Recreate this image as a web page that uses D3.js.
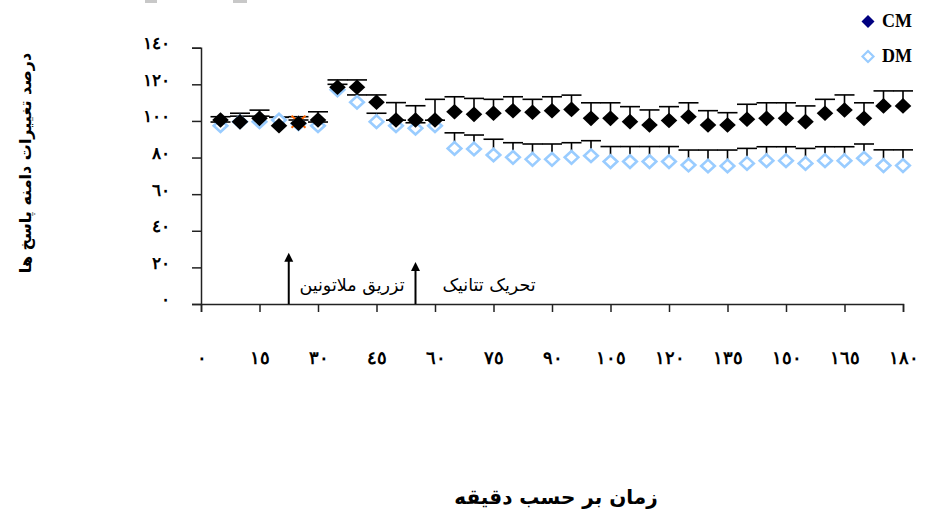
<!DOCTYPE html>
<html>
<head>
<meta charset="utf-8">
<script src="https://cdn.jsdelivr.net/npm/d3@7"></script>
<style>
  body { margin: 0; background: #fff; }
</style>
</head>
<body>
<div id="chart"></div>
<script>
// minutes
let minutes = [5, 10, 15, 20, 25, 30, 35, 40, 45, 50, 55, 60, 65, 70, 75, 80, 85, 90,
  95, 100, 105, 110, 115, 120, 125, 130, 135, 140, 145, 150, 155, 160, 165, 170, 175, 180]

let cmValues = [100.5, 99.5, 101.4, 97.4, 98.7, 100.5, 118.4, 118.4, 110.2, 100.5, 100.5, 100.5,
  105, 103.6, 104.2, 105.6, 104.7, 105.6, 106.3, 101.4, 101.4, 99.6, 97.8, 100.2, 102.3, 97.8,
  97.8, 100.9, 101.4, 101.4, 99.6, 104.2, 106, 101.4, 108.2, 108.2]
let cmErrors = [1.8, 4.7, 4.5, 4.6, 3.6, 4.5, 4, 4, 4, 9.5, 7.8, 11.3,
  8.2, 8.7, 7.6, 7.6, 7.1, 7.6, 7.8, 8.5, 8.5, 8.2, 8.2, 7.6, 7.6, 7.8,
  6.7, 8.2, 8.5, 8.5, 8.6, 7.6, 8.2, 8.5, 8.2, 8.2]

let dmValues = [97.4, 99.6, 99.6, 100.5, 98.5, 97.4, 117, 110.2, 99.6, 97.4, 96, 97.4,
  85, 84.7, 81.4, 80.1, 79, 79, 80.1, 81, 77.8, 77.8, 77.8, 77.8, 75.9, 75.4,
  75.4, 76.8, 78.3, 78.3, 76.8, 78.3, 78.3, 79.6, 75.6, 75.6]
let dmErrors = [2, 3, 3, 1.5, 2, 2, 3, 4, 4.6, 3, 3, 3,
  8.5, 7.6, 8.6, 8, 8.4, 8.4, 8, 8.2, 8.2, 8.2, 8.2, 8.2, 8.2, 8.7,
  8.7, 8.2, 7.6, 7.6, 8.2, 7.6, 7.6, 7.8, 8.6, 8.6]

// stray orange marker
let extraMinutes = [25]
let extraValues = [99.6]

let xTicks = [0, 15, 30, 45, 60, 75, 90, 105, 120, 135, 150, 165, 180]
let yTicks = [0, 20, 40, 60, 80, 100, 120, 140]

let arrowMinutes = [22.5, 55]
let arrowTops = [28, 23]
let arrowLabels = ["تزریق ملاتونین", "تحریک تتانیک"]

let seriesNames = ["CM", "DM"]

let width = 925
let height = 512

let toArabic = v => String(v).replace(/\d/g, c => "٠١٢٣٤٥٦٧٨٩"[c])

let svg = d3.select("#chart")
  .append("svg")
  .attr("width", width)
  .attr("height", height)
  .style("font-family", "'DejaVu Sans', sans-serif")

let x = d3.scaleLinear().domain([0, 180]).range([201, 903])
let y = d3.scaleLinear().domain([0, 140]).range([304, 47.7])

// cut off bits at the very top
svg.append("rect").attr("x", 145).attr("y", 0).attr("width", 12).attr("height", 3).attr("fill", "#c8c8c8")
svg.append("rect").attr("x", 233).attr("y", 0).attr("width", 14).attr("height", 3).attr("fill", "#c8c8c8")

// axes
let yAxis = svg.append("g")
  .attr("transform", "translate(201,0)")
  .call(d3.axisLeft(y).tickValues(yTicks).tickSize(9).tickPadding(22).tickFormat(toArabic))
yAxis.select(".domain").attr("stroke", "#222").attr("stroke-width", 1.5)
yAxis.selectAll(".tick line").attr("stroke", "#222").attr("stroke-width", 1.5)
yAxis.selectAll("text")
  .attr("dy", "0.05em")
  .style("font-size", "17px")
  .style("font-weight", "bold")
  .attr("fill", "#000")

let xAxis = svg.append("g")
  .attr("transform", "translate(0,304)")
  .call(d3.axisBottom(x).tickValues(xTicks).tickSize(8).tickFormat(toArabic))
xAxis.select(".domain").attr("stroke", "#222").attr("stroke-width", 1.5)
xAxis.selectAll(".tick line").attr("stroke", "#222").attr("stroke-width", 1.5)
xAxis.selectAll("text")
  .attr("y", 54)
  .attr("dy", "0.35em")
  .style("font-size", "18px")
  .style("font-weight", "bold")
  .attr("fill", "#000")

// error bars (upper only)
function errorBars(values, errors) {
  let g = svg.append("g").attr("stroke", "#000").attr("stroke-width", 1.6)
  minutes.forEach((m, i) => {
    let top = y(values[i] + errors[i])
    g.append("line")
      .attr("x1", x(m)).attr("x2", x(m))
      .attr("y1", y(values[i])).attr("y2", top)
    g.append("line")
      .attr("x1", x(m) - 10).attr("x2", x(m) + 10)
      .attr("y1", top).attr("y2", top)
  })
}
errorBars(dmValues, dmErrors)
errorBars(cmValues, cmErrors)

let diamond = (w, h) => `M0,${-h}L${w},0L0,${h}L${-w},0Z`

// DM series, hollow light blue diamonds
svg.append("g")
  .selectAll("path")
  .data(minutes)
  .enter()
  .append("path")
    .attr("transform", (d, i) => `translate(${x(d)},${y(dmValues[i])})`)
    .attr("d", diamond(6.8, 6.3))
    .attr("fill", "#fff")
    .attr("stroke", "#99ccff")
    .attr("stroke-width", 2.6)

// orange x marker
svg.append("g")
  .selectAll("path")
  .data(extraMinutes)
  .enter()
  .append("path")
    .attr("transform", (d, i) => `translate(${x(d)},${y(extraValues[i])})`)
    .attr("d", "M-7,-6L7,6M-7,6L7,-6")
    .attr("stroke", "#ff6600")
    .attr("stroke-width", 2)

// CM series, filled black diamonds
svg.append("g")
  .selectAll("path")
  .data(minutes)
  .enter()
  .append("path")
    .attr("transform", (d, i) => `translate(${x(d)},${y(cmValues[i])})`)
    .attr("d", diamond(8.3, 7.8))
    .attr("fill", "#000")

// arrows and labels
arrowMinutes.forEach((m, i) => {
  svg.append("line")
    .attr("x1", x(m)).attr("x2", x(m))
    .attr("y1", y(0)).attr("y2", y(arrowTops[i]) + 4)
    .attr("stroke", "#000")
    .attr("stroke-width", 2)
})
svg.selectAll(".arrowhead")
  .data(arrowMinutes)
  .enter()
  .append("path")
    .attr("class", "arrowhead")
    .attr("transform", (d, i) => `translate(${x(d)},${y(arrowTops[i])})`)
    .attr("d", "M-4.5,9L0,0L4.5,9Z")
    .attr("fill", "#000")

svg.append("text")
  .attr("x", 352).attr("y", 291)
  .attr("text-anchor", "middle")
  .style("font-size", "17.5px")
  .text(arrowLabels[0])
svg.append("text")
  .attr("x", 489).attr("y", 291)
  .attr("text-anchor", "middle")
  .style("font-size", "17.5px")
  .text(arrowLabels[1])

// axis titles
svg.append("text")
  .attr("transform", "translate(25,163) rotate(-90)")
  .attr("text-anchor", "middle")
  .attr("dy", "0.35em")
  .style("font-size", "16px")
  .style("font-weight", "bold")
  .text("درصد تغییرات دامنه پاسخ ها")

svg.append("text")
  .attr("x", 556).attr("y", 504)
  .attr("text-anchor", "middle")
  .style("font-size", "20px")
  .style("font-weight", "bold")
  .text("زمان بر حسب دقیقه")

// legend
let legend = svg.append("g").style("font-family", "'Liberation Serif', serif")
legend.append("path")
  .attr("transform", "translate(868,21.5)")
  .attr("d", diamond(6.5, 6.5))
  .attr("fill", "#000080")
legend.append("path")
  .attr("transform", "translate(868,56.5)")
  .attr("d", diamond(5.5, 5.5))
  .attr("fill", "#fff")
  .attr("stroke", "#99ccff")
  .attr("stroke-width", 2.2)
legend.selectAll("text")
  .data(seriesNames)
  .enter()
  .append("text")
    .attr("x", 882)
    .attr("y", (d, i) => 27 + i * 35)
    .style("font-size", "18px")
    .style("font-weight", "bold")
    .text(d => d)
</script>
</body>
</html>
